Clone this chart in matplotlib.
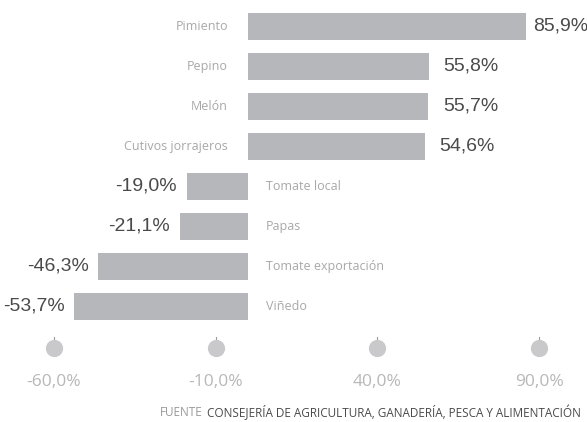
import matplotlib.pyplot as plt

categorias = ['Pimiento', 'Pepino', 'Melón', 'Cutivos jorrajeros',
              'Tomate local', 'Papas', 'Tomate exportación', 'Viñedo']
variacion = [85.9, 55.8, 55.7, 54.6, -19.0, -21.1, -46.3, -53.7]
ticks = [-60, -10, 40, 90]
fuente = 'CONSEJERÍA DE AGRICULTURA, GANADERÍA, PESCA Y ALIMENTACIÓN'

fig = plt.figure(figsize=(5.87, 4.22), dpi=100)
ax = fig.add_axes([0, 0, 1, 1])
ax.set_xlim(-76.7, 104.8)
ax.set_ylim(9.9, -0.65)
ax.axis('off')

pos = list(range(len(categorias)))
ax.barh(pos, variacion, height=0.675, color='#b6b7ba')

num_font = 'Liberation Sans'
for i, (c, v) in enumerate(zip(categorias, variacion)):
    txt = f'{v:.1f}%'.replace('.', ',')
    if v > 0:
        ax.text(min(v + 4.5, 88), i, txt, ha='left', va='center', fontsize=14,
                color='#4a4a4a', family=num_font)
        ax.text(-6.2, i, c, ha='right', va='center', fontsize=9,
                color='#a8a8a8', family='Open Sans')
    else:
        ax.text(v - 3.0, i, txt, ha='right', va='center', fontsize=14,
                color='#4a4a4a', family=num_font)
        ax.text(5.5, i, c, ha='left', va='center', fontsize=9,
                color='#a8a8a8', family='Open Sans')

# eje inferior con círculos
ax.scatter(ticks, [8.05] * len(ticks), s=130, color='#c9c9cb', zorder=3)
for t in ticks:
    ax.plot([t, t], [7.78, 7.9], color='#9a9a9a', lw=0.8)
    ax.text(t, 8.9, f'{t:.1f}%'.replace('.', ','), ha='center', va='center',
            fontsize=12.5, color='#b8b8b8', family='Open Sans')

t1 = ax.text(-27.2, 9.65, 'FUENTE', ha='left', va='center', fontsize=8.5,
             color='#9a9a9a', family='Open Sans')
ax.annotate(fuente, xy=(1, 0.5), xycoords=t1, xytext=(3, 0),
            textcoords='offset points', ha='left', va='center', fontsize=8.5,
            color='#4a4a4a', family='Open Sans')

fig.savefig('out.png', dpi=100)
